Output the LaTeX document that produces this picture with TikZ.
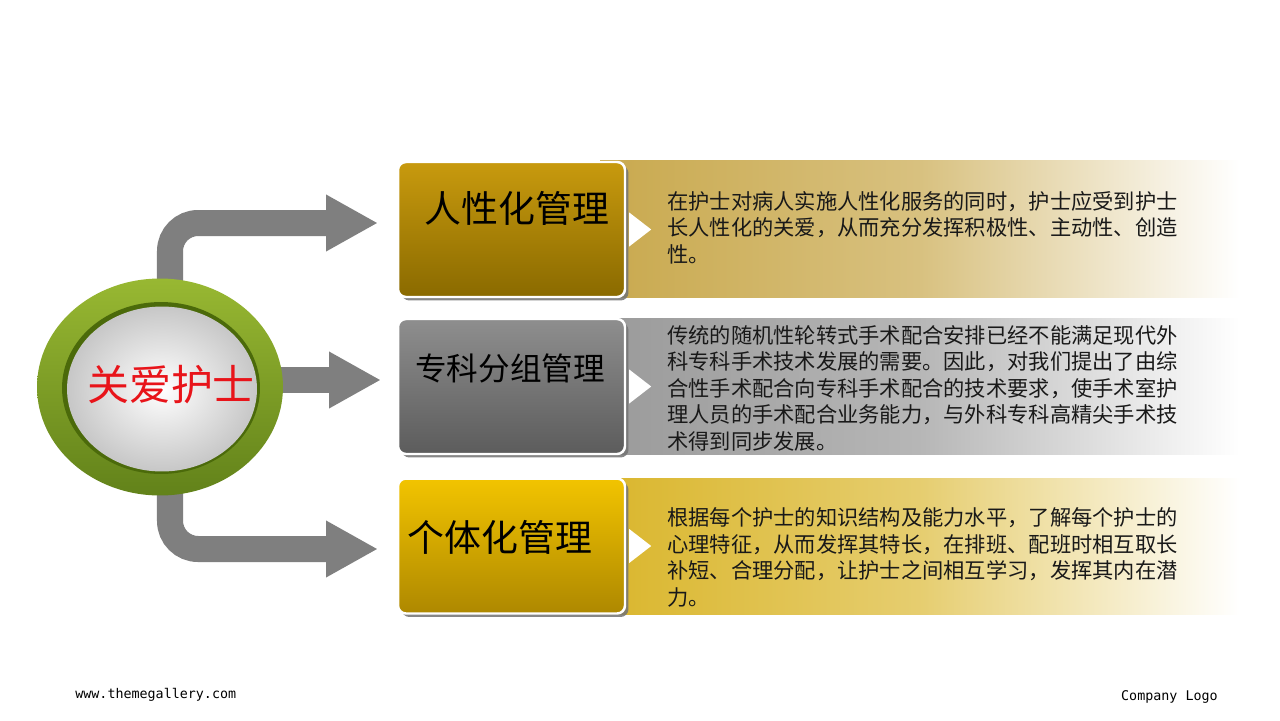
\documentclass[tikz,border=0pt]{standalone}
\usepackage{fontspec}
\newfontfamily\cjk{Noto Sans CJK SC}
\setmonofont{DejaVu Sans Mono}
\usetikzlibrary{arrows.meta,shapes.geometric,shadows}

\pgfdeclarelayer{paper}
\pgfdeclarelayer{behind}
\pgfsetlayers{paper,behind,main}

\definecolor{arrowgray}{HTML}{7F7F7F}
\definecolor{goldtop}{HTML}{C89A0E}
\definecolor{goldbot}{HTML}{8A6A00}
\definecolor{yellowtop}{HTML}{F2C400}
\definecolor{yellowbot}{HTML}{AE8800}
\definecolor{graytop}{HTML}{8E8E8E}
\definecolor{graybot}{HTML}{5C5C5C}
\definecolor{bandgold}{HTML}{C9A94E}
\definecolor{bandgray}{HTML}{9A9A9A}
\definecolor{bandyellow}{HTML}{DAB62C}
\definecolor{ringlight}{HTML}{98B832}
\definecolor{ringdark}{HTML}{62821A}
\definecolor{ringinner}{HTML}{4B6A0A}
\definecolor{hubred}{HTML}{E8141A}

\tikzset{
	box/.style={rectangle, draw=white, line width=1.4pt, rounded corners=4.5pt,
		minimum width=4.54cm, minimum height=2.7cm, inner sep=0pt,
		drop shadow={shadow xshift=0.07cm, shadow yshift=-0.07cm, fill=black!55, opacity=0.85}},
	band/.style={rectangle, minimum width=12.8cm, minimum height=2.73cm, inner sep=0pt, right color=white},
	title/.style={font=\cjk\fontsize{21}{24}\selectfont, inner sep=0pt},
	body/.style={font=\cjk\fontsize{12.1}{15.1}\selectfont, align=left, anchor=west, inner sep=0pt, text=black!90},
	flow/.style={draw=arrowgray, line width=14.8pt, rounded corners=16pt,
		-{Triangle[length=1.04cm,width=1.06cm]}},
	foot/.style={font=\ttfamily\fontsize{7.6}{9}\selectfont, inner sep=0pt}
}

\begin{document}
\begin{tikzpicture}[x=0.02cm, y=-0.02cm]
	% page
	\useasboundingbox (0,0) rectangle (1280,720);
	\begin{pgfonlayer}{paper}
		\fill[white] (0,0) rectangle (1280,720);
	\end{pgfonlayer}

	% bands
	\node[band, left color=bandgold, middle color=bandgold!72!white] (band1) at (920,229) {};
	\node[band, left color=bandgray, middle color=bandgray!72!white] (band2) at (920,386.5) {};
	\node[band, left color=bandyellow, middle color=bandyellow!68!white] (band3) at (920,546.5) {};

	% boxes
	\node[box, top color=goldtop, bottom color=goldbot] (box1) at (511.5,229.5) {};
	\node[box, top color=graytop, bottom color=graybot] (box2) at (511.5,386.5) {};
	\node[box, top color=yellowtop, bottom color=yellowbot] (box3) at (511.5,546) {};

	% pointers
	\fill[white, shift={(box1.east)}] (3,-17) -- (25,0) -- (3,17) -- cycle;
	\fill[white, shift={(box2.east)}] (3,-17) -- (25,0) -- (3,17) -- cycle;
	\fill[white, shift={(box3.east)}] (3,-17) -- (25,0) -- (3,17) -- cycle;

	% titles
	\node[title] (title1) at (517,208) {人性化管理};
	\node[title, font=\cjk\fontsize{18}{21}\selectfont] (title2) at (510,368) {专科分组管理};
	\node[title] (title3) at (500,537) {个体化管理};

	% texts
	\node[body] (text1) at (667,227.5) {在护士对病人实施人性化服务的同时，护士应受到护士\\长人性化的关爱，从而充分发挥积极性、主动性、创造\\性。};
	\node[body] (text2) at (667,388) {传统的随机性轮转式手术配合安排已经不能满足现代外\\科专科手术技术发展的需要。因此，对我们提出了由综\\合性手术配合向专科手术配合的技术要求，使手术室护\\理人员的手术配合业务能力，与外科专科高精尖手术技\\术得到同步发展。};
	\node[body] (text3) at (667,557.5) {根据每个护士的知识结构及能力水平，了解每个护士的\\心理特征，从而发挥其特长，在排班、配班时相互取长\\补短、合理分配，让护士之间相互学习，发挥其内在潜\\力。};

	% hub
	\node[ellipse, minimum width=4.92cm, minimum height=4.34cm, inner sep=0pt,
		top color=ringlight, bottom color=ringdark] (hub) at (160,387) {};
	\node[ellipse, minimum width=3.96cm, minimum height=3.44cm, inner sep=0pt,
		fill=ringinner] (hubring) at (161,388) {};
	\node[ellipse, minimum width=3.8cm, minimum height=3.3cm, inner sep=0pt,
		inner color=white, middle color=white!94!black, outer color=black!22] (hubball) at (162,389) {};
	\node[font=\cjk\fontsize{23.9}{26}\selectfont, text=hubred, inner sep=0pt] (hubtext) at (171,385) {关爱护士};

	% arrow ends
	\coordinate (tip1) at (378,223);
	\coordinate (tip2) at (381,380);
	\coordinate (tip3) at (378,549);

	% arrows
	\begin{pgfonlayer}{behind}
		\draw[flow] ([xshift=0.2cm]hub.center) |- (tip1);
		\draw[flow] (hub.center |- tip2) -- (tip2);
		\draw[flow] ([xshift=0.2cm]hub.center) |- (tip3);
	\end{pgfonlayer}

	% footer
	\node[foot, anchor=west] (site) at (75,695) {www.themegallery.com};
	\node[foot, anchor=east] (logo) at (1218,697) {Company Logo};
\end{tikzpicture}
\end{document}
